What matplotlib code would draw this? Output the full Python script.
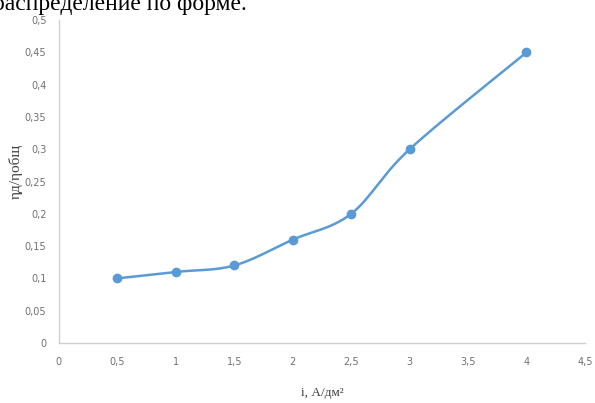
import numpy as np
import matplotlib
matplotlib.use("Agg")
import matplotlib.pyplot as plt

x_vals = [0.5, 1, 1.5, 2, 2.5, 3, 4]
y_vals = [0.10, 0.11, 0.12, 0.16, 0.20, 0.30, 0.45]
x_ticks = [0, 0.5, 1, 1.5, 2, 2.5, 3, 3.5, 4, 4.5]
y_ticks = [0, 0.05, 0.1, 0.15, 0.2, 0.25, 0.3, 0.35, 0.4, 0.45, 0.5]

def fmt(v):
    s = ("%g" % v).replace(".", ",")
    return s

def smooth(xs, ys, n=30, t=0.5):
    xs = np.asarray(xs, float); ys = np.asarray(ys, float)
    px = np.concatenate([[xs[0]], xs, [xs[-1]]])
    py = np.concatenate([[ys[0]], ys, [ys[-1]]])
    ox, oy = [], []
    for i in range(1, len(px) - 2):
        p0 = np.array([px[i-1], py[i-1]]); p1 = np.array([px[i], py[i]])
        p2 = np.array([px[i+1], py[i+1]]); p3 = np.array([px[i+2], py[i+2]])
        c1 = p1 + (p2 - p0) * t / 3
        c2 = p2 - (p3 - p1) * t / 3
        s = np.linspace(0, 1, n)[:, None]
        b = (1-s)**3*p1 + 3*(1-s)**2*s*c1 + 3*(1-s)*s**2*c2 + s**3*p2
        ox.extend(b[:, 0]); oy.extend(b[:, 1])
    return ox, oy

fig = plt.figure(figsize=(5.95, 4.03), dpi=100)
ax = fig.add_axes([0.099, 0.149, 0.884, 0.801])

color = "#5B9BD5"
sx, sy = smooth(x_vals, y_vals)
ax.plot(sx, sy, color=color, lw=1.8, solid_capstyle="round")
ax.plot(x_vals, y_vals, "o", color=color, ms=6)

ax.set_xlim(0, 4.5)
ax.set_ylim(0, 0.5)
ax.set_xticks(x_ticks)
ax.set_yticks(y_ticks)
tick_font = ["Liberation Sans Narrow", "DejaVu Sans Condensed", "DejaVu Sans"]
ax.set_xticklabels([fmt(v) for v in x_ticks], family=tick_font, fontsize=7, color="#707070")
ax.set_yticklabels([fmt(v) for v in y_ticks], family=tick_font, fontsize=7, color="#707070")
ax.tick_params(length=0, pad=10)
ax.tick_params(axis="y", pad=9)
for side in ["top", "right"]:
    ax.spines[side].set_visible(False)
for side in ["left", "bottom"]:
    ax.spines[side].set_color("#D0D0D0")
    ax.spines[side].set_linewidth(1.0)

serif = ["Liberation Serif", "DejaVu Serif"]
ax.set_xlabel("i, А/дм²", family=serif, fontsize=9.5, color="#404040")
ax.set_ylabel("ηд/ηобщ", family=serif, fontsize=11, color="#404040")
ax.xaxis.set_label_coords(0.5, -0.135)
ax.yaxis.set_label_coords(-0.068, 0.53)

fig.text(-0.012, 1.014, "распределение по форме.", family=serif, fontsize=17,
         ha="left", va="top", color="black")

fig.savefig("out.png", dpi=100)
